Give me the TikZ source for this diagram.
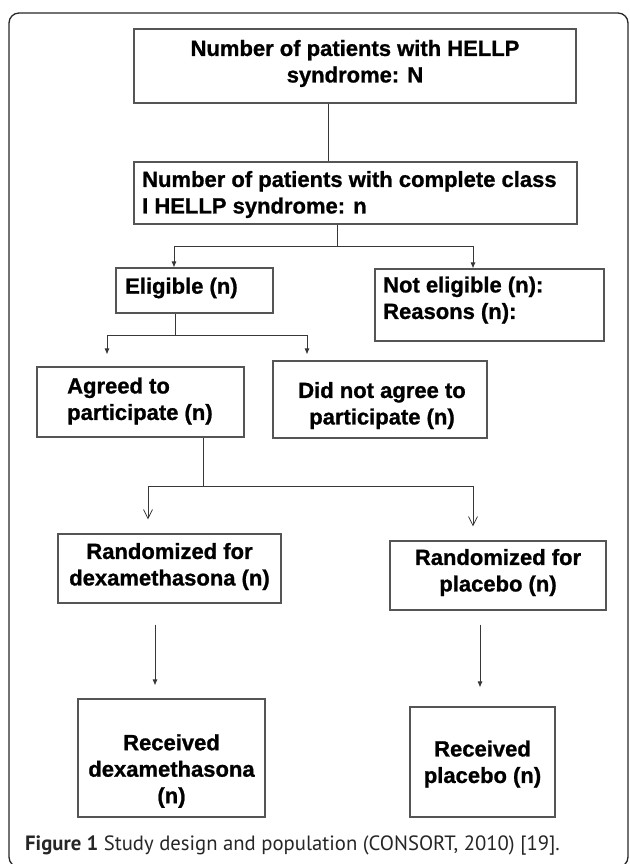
\documentclass[tikz,border=0pt]{standalone}
\usepackage{fontspec}
\setmainfont{Liberation Sans}
\newfontfamily\boxfont[FakeBold=1.0]{Liberation Sans Bold}
\newfontfamily\capfont{PT Sans}
\usetikzlibrary{arrows.meta}
\definecolor{boxgray}{HTML}{555555}
\definecolor{linegray}{HTML}{383838}
\begin{document}
\begin{tikzpicture}[x=1pt,y=-1pt,
  box/.style={draw=boxgray, line width=1.1pt, rectangle, inner sep=0pt},
  txt/.style={font=\boxfont\fontsize{22}{26.5}\selectfont, inner sep=0pt, text=black},
  conn/.style={draw=linegray, line width=0.9pt},
  farr/.style={conn, -{Latex[length=6pt,width=5pt]}},
  oarr/.style={conn, line width=0.8pt, -{Straight Barb[length=9pt,width=9pt]}}]
\useasboundingbox (0,0) rectangle (629,864);
% outer frame
\draw[line width=1.3pt, rounded corners=10pt, draw=black!85] (9,13) rectangle (628,867);

% boxes
\node[box, minimum width=442pt, minimum height=74pt] (b1) at (355,66) {};
\node[box, minimum width=443pt, minimum height=62pt] (b2) at (355.5,193) {};
\node[box, minimum width=157pt, minimum height=45pt] (elig) at (194.5,290.5) {};
\node[box, minimum width=229pt, minimum height=72pt] (nelig) at (489.5,305) {};
\node[box, minimum width=207pt, minimum height=70pt] (agree) at (140.5,402) {};
\node[box, minimum width=214pt, minimum height=77pt] (dna) at (380,399.5) {};
\node[box, minimum width=223pt, minimum height=69pt] (rdex) at (169.5,568.5) {};
\node[box, minimum width=216pt, minimum height=69pt] (rpla) at (498,575.5) {};
\node[box, minimum width=187pt, minimum height=118pt] (recd) at (171.5,758) {};
\node[box, minimum width=145pt, minimum height=110pt] (recp) at (482.5,762) {};

% texts
\node[txt, align=center] (t1) at (355,63.5) {Number of patients with HELLP\\syndrome: N};
\node[txt, align=left, anchor=west] (t2) at (142,194.5) {Number of patients with complete class\\I HELLP syndrome: n};
\node[txt, align=left, anchor=west] (t3) at (125,288) {Eligible (n)};
\node[txt, align=left, anchor=west] (t4) at (383,300) {Not eligible (n):\\Reasons (n):};
\node[txt, align=left, anchor=west] (t5) at (67,401) {Agreed to\\participate (n)};
\node[txt, align=center] (t6) at (382,405.5) {Did not agree to\\participate (n)};
\node[txt, align=center] (t7) at (169.5,566.5) {Randomized for\\dexamethasona (n)};
\node[txt, align=center] (t8) at (498,572.5) {Randomized for\\placebo (n)};
\node[txt, align=center] (t9) at (171.5,771) {Received\\dexamethasona\\(n)};
\node[txt, align=center] (t10) at (482.5,764) {Received\\placebo (n)};

% connectors
\coordinate (x1) at (328,0);
\draw[conn] (b1.south -| x1) -- (b2.north -| x1);
\coordinate (j1) at (337,246);
\coordinate (xa) at (174,0);
\coordinate (xb) at (473,0);
\draw[conn] (b2.south -| j1) -- (j1);
\draw[farr] (j1) -| (elig.north -| xa);
\draw[farr] (j1) -| (nelig.north -| xb);
\coordinate (j2) at (175,335);
\coordinate (xc) at (107,0);
\coordinate (xd) at (307,0);
\draw[conn] (elig.south -| j2) -- (j2);
\draw[farr, shorten >=12pt] (j2) -| (agree.north -| xc);
\draw[farr, shorten >=6pt] (j2) -| (dna.north -| xd);
\coordinate (j3) at (203,486);
\coordinate (xe) at (148,0);
\coordinate (xf) at (473,0);
\draw[conn] (agree.south -| j3) -- (j3);
\draw[oarr, shorten >=14pt] (j3) -| (rdex.north -| xe);
\draw[oarr, shorten >=14pt] (j3) -| (rpla.north -| xf);
\coordinate (xg) at (155,0);
\coordinate (xh) at (480,0);
\draw[farr, shorten <=21pt, shorten >=13pt] (rdex.south -| xg) -- (recd.north -| xg);
\draw[farr, shorten <=14pt, shorten >=19pt] (rpla.south -| xh) -- (recp.north -| xh);

% caption
\node[anchor=base west, font=\capfont\fontsize{20.7}{24}\selectfont, inner sep=0pt, text=black!85] (cap) at (25,850) {\textbf{Figure 1} Study design and population (CONSORT, 2010) [19].};
\end{tikzpicture}
\end{document}
